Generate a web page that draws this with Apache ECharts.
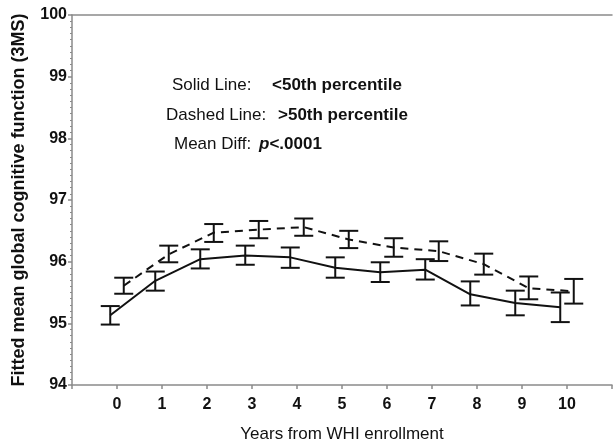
<!DOCTYPE html>
<html>
<head>
<meta charset="utf-8">
<script src="https://cdn.jsdelivr.net/npm/echarts@6/dist/echarts.min.js"></script>
<style>
html,body{margin:0;padding:0;background:#fff;}
#c{width:613px;height:443px;}
</style>
</head>
<body>
<div id="c"></div>
<script>
// ---- data ----
const years = [0, 1, 2, 3, 4, 5, 6, 7, 8, 9, 10];
const solidMean = [95.13, 95.69, 96.04, 96.10, 96.07, 95.90, 95.83, 95.87, 95.47, 95.33, 95.26];
const solidLow  = [94.98, 95.53, 95.89, 95.95, 95.90, 95.74, 95.67, 95.71, 95.29, 95.13, 95.02];
const solidHigh = [95.28, 95.84, 96.20, 96.26, 96.23, 96.07, 95.99, 96.04, 95.68, 95.53, 95.50];
const dashedMean = [95.61, 96.12, 96.47, 96.52, 96.56, 96.36, 96.23, 96.17, 95.96, 95.57, 95.52];
const dashedLow  = [95.48, 95.99, 96.32, 96.38, 96.42, 96.22, 96.08, 96.01, 95.79, 95.39, 95.32];
const dashedHigh = [95.74, 96.26, 96.61, 96.66, 96.70, 96.50, 96.38, 96.33, 96.13, 95.76, 95.72];
const yTicks = [94, 95, 96, 97, 98, 99, 100];
const xTickLabels = ['0','1','2','3','4','5','6','7','8','9','10'];

const SOLID_SHIFT = -0.15, DASHED_SHIFT = 0.15;
const FONT = '"Liberation Sans", Arial, Helvetica, sans-serif';
const AXIS_GRAY = '#8a8a8a';

function errRender(params, api) {
  const x = api.value(0), lo = api.value(1), hi = api.value(2);
  const a = api.coord([x, lo]), b = api.coord([x, hi]);
  const hw = 9.5;
  const st = {stroke: '#111', lineWidth: 2};
  return {type: 'group', children: [
    {type: 'line', shape: {x1: a[0], y1: a[1], x2: b[0], y2: b[1]}, style: st},
    {type: 'line', shape: {x1: a[0]-hw, y1: a[1], x2: a[0]+hw, y2: a[1]}, style: st},
    {type: 'line', shape: {x1: b[0]-hw, y1: b[1], x2: b[0]+hw, y2: b[1]}, style: st}
  ]};
}

const chart = echarts.init(document.getElementById('c'), null, {renderer: 'canvas'});
const txt = (x, y, s, weight) => ({
  type: 'text', left: x, top: y,
  style: {text: s, fill: '#111', font: weight + ' 17px ' + FONT}
});
chart.setOption({
  animation: false,
  backgroundColor: '#fff',
  grid: {left: 72, right: 1, top: 15, bottom: 58, containLabel: false, outerBoundsMode: 'none'},
  xAxis: [{
    type: 'value', min: -1, max: 11, interval: 1,
    name: 'Years from WHI enrollment', nameLocation: 'middle', nameGap: 41,
    nameTextStyle: {fontFamily: FONT, fontSize: 17, color: '#111'},
    axisLine: {show: true, onZero: false, lineStyle: {color: AXIS_GRAY, width: 1.5}},
    axisTick: {show: true, length: 4, lineStyle: {color: AXIS_GRAY, width: 1.5}},
    axisLabel: {margin: 12, fontFamily: FONT, fontSize: 16, fontWeight: 'bold', color: '#111',
      formatter: v => (v >= 0 && v <= 10) ? xTickLabels[v] : ''},
    splitLine: {show: false}
  }, {
    type: 'value', position: 'top', min: -1, max: 11,
    axisLine: {show: true, onZero: false, lineStyle: {color: AXIS_GRAY, width: 1.5}},
    axisTick: {show: false}, axisLabel: {show: false}, splitLine: {show: false}
  }],
  yAxis: {
    type: 'value', min: yTicks[0], max: yTicks[yTicks.length-1], interval: 1,
    name: 'Fitted mean global cognitive function (3MS)', nameLocation: 'middle', nameGap: 44,
    nameTextStyle: {fontFamily: FONT, fontSize: 18, fontWeight: 'bold', color: '#111'},
    axisLine: {show: true, onZero: false, lineStyle: {color: AXIS_GRAY, width: 1.5}},
    axisTick: {show: true, length: 4, lineStyle: {color: AXIS_GRAY, width: 1.5}},
    minorTick: {show: true, splitNumber: 10, length: 2, lineStyle: {color: AXIS_GRAY, width: 1}},
    axisLabel: {margin: 5, fontFamily: FONT, fontSize: 16, fontWeight: 'bold', color: '#111'},
    splitLine: {show: false}
  },
  series: [
    {type: 'line', name: '<50th', data: years.map((y, i) => [y + SOLID_SHIFT, solidMean[i]]),
      symbol: 'none', lineStyle: {color: '#111', width: 2}},
    {type: 'line', name: '>50th', data: years.map((y, i) => [y + DASHED_SHIFT, dashedMean[i]]),
      symbol: 'none', lineStyle: {color: '#111', width: 2, type: [8, 6]}},
    {type: 'custom', renderItem: errRender,
      data: years.map((y, i) => [y + SOLID_SHIFT, solidLow[i], solidHigh[i]])},
    {type: 'custom', renderItem: errRender,
      data: years.map((y, i) => [y + DASHED_SHIFT, dashedLow[i], dashedHigh[i]])}
  ],
  graphic: [
    txt(172, 77, 'Solid Line:', 'normal'),
    txt(272, 77, '<50th percentile', 'bold'),
    txt(166, 107, 'Dashed Line:', 'normal'),
    txt(278, 107, '>50th percentile', 'bold'),
    txt(174, 136, 'Mean Diff:', 'normal'),
    {type: 'text', left: 259, top: 136, style: {
      rich: {
        p: {font: 'italic bold 17px ' + FONT, fill: '#111'},
        r: {font: 'bold 17px ' + FONT, fill: '#111'}
      },
      text: '{p|p}{r|<.0001}'
    }}
  ]
});
</script>
</body>
</html>
